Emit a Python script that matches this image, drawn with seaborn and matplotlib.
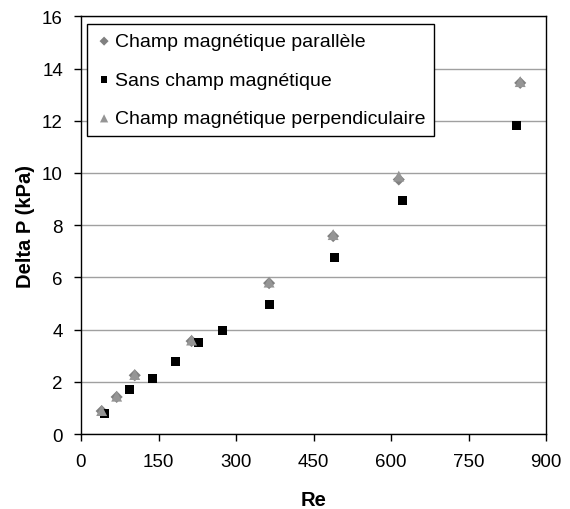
import numpy as np
import pandas as pd
import matplotlib
matplotlib.use("Agg")
import matplotlib.pyplot as plt
import seaborn as sns

# Re / Delta P (kPa)
re_par = [40, 69, 104, 214, 364, 488, 615, 850]
dp_par = [0.88, 1.42, 2.25, 3.56, 5.78, 7.58, 9.75, 13.45]

re_sans = [46, 93, 138, 183, 228, 274, 364, 490, 623, 843]
dp_sans = [0.77, 1.70, 2.14, 2.77, 3.51, 3.96, 4.97, 6.77, 8.94, 11.81]

re_perp = [40, 69, 104, 214, 364, 488, 615, 850]
dp_perp = [0.90, 1.45, 2.28, 3.60, 5.82, 7.64, 9.88, 13.50]

xticks = [0, 150, 300, 450, 600, 750, 900]
yticks = [0, 2, 4, 6, 8, 10, 12, 14, 16]

sns.set_style("white")
plt.rcParams['font.family'] = ['Liberation Sans', 'DejaVu Sans']
plt.rcParams['text.color'] = 'black'
plt.rcParams['axes.labelcolor'] = 'black'
plt.rcParams['xtick.color'] = 'black'
plt.rcParams['ytick.color'] = 'black'

fig = plt.figure(figsize=(5.7, 5.1), dpi=100)
ax = fig.add_axes([0.1421, 0.147, 0.958 - 0.1421, 0.966 - 0.147])

sns.scatterplot(x=re_par, y=dp_par, ax=ax, marker='D', s=38, color='#808080',
                edgecolor='none', label="Champ magnétique parallèle", zorder=3)
sns.scatterplot(x=re_sans, y=dp_sans, ax=ax, marker='s', s=42, color='black',
                edgecolor='none', label="Sans champ magnétique", zorder=3)
sns.scatterplot(x=re_perp, y=dp_perp, ax=ax, marker='^', s=62, color='#959595',
                edgecolor='none', label="Champ magnétique perpendiculaire", zorder=3)

ax.set_xlim(0, 900)
ax.set_ylim(0, 16)
ax.set_xticks(xticks)
ax.set_yticks(yticks)
ax.tick_params(labelsize=13.5, direction='out', length=5, width=1, color='black',
               bottom=True, left=True)
ax.tick_params(axis='y', pad=8)
ax.tick_params(axis='x', pad=9)
ax.yaxis.grid(True, color='#a0a0a0', linewidth=1)
ax.xaxis.grid(False)
ax.set_axisbelow(True)
for sp in ax.spines.values():
    sp.set_color('black')
    sp.set_linewidth(1)

ax.set_xlabel("Re", fontsize=14.5, fontweight='bold', labelpad=14)
ax.set_ylabel("Delta P (kPa)", fontsize=14.5, fontweight='bold', labelpad=5)

leg = ax.legend(loc='upper left', bbox_to_anchor=(0.012, 0.982), fontsize=14,
                frameon=True, fancybox=False, edgecolor='black', framealpha=1,
                handletextpad=0.1, handlelength=0.9, labelspacing=1.08,
                borderpad=0.45, borderaxespad=0, markerscale=0.75)
leg.get_frame().set_linewidth(1)

fig.savefig("out.png", dpi=100)
